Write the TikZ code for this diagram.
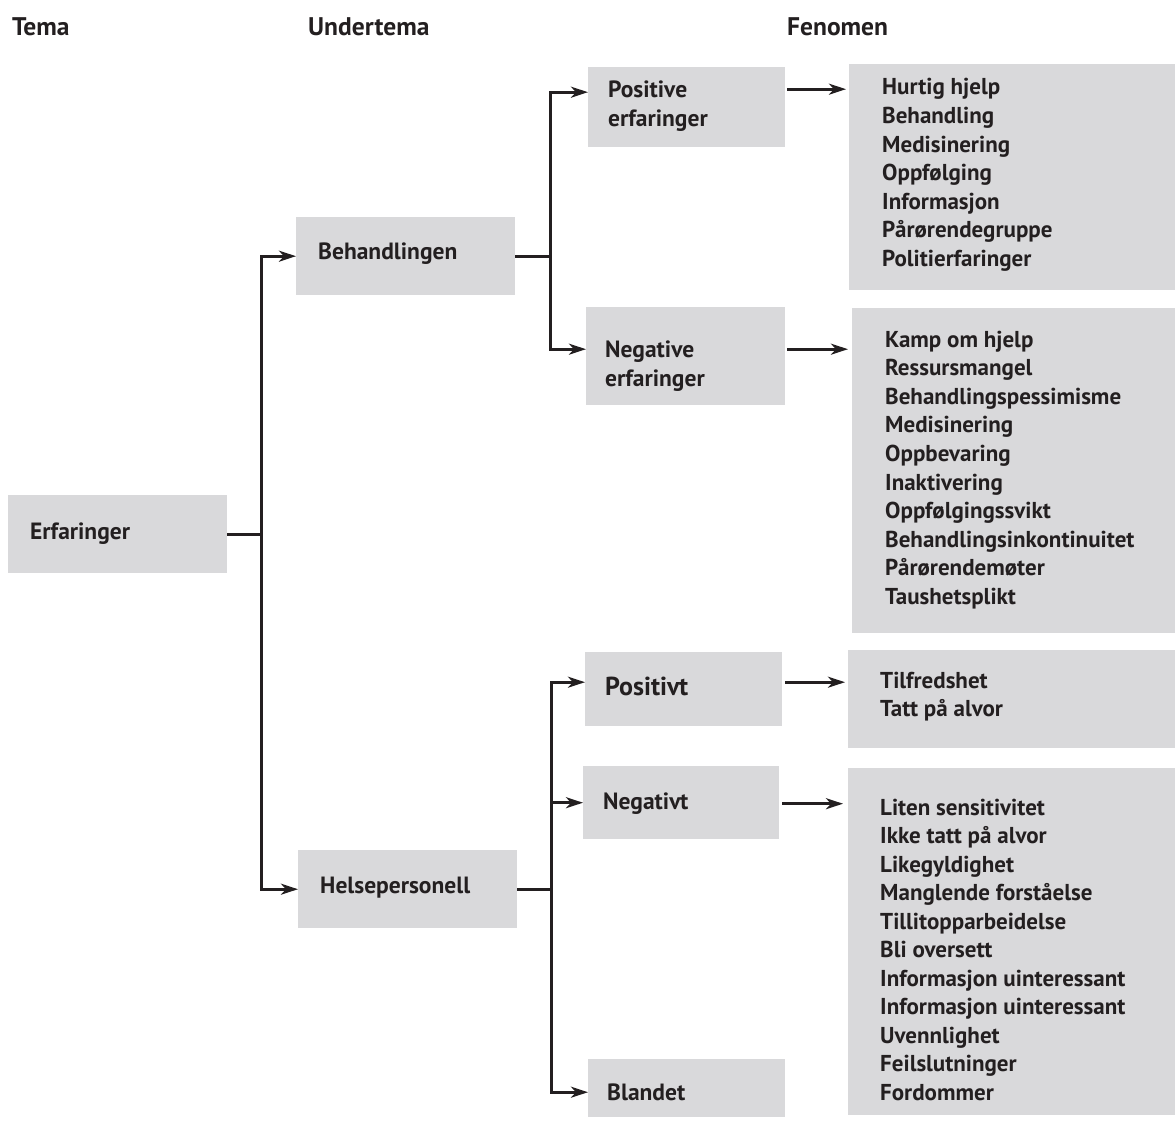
\documentclass[tikz,border=0pt]{standalone}
\usepackage{fontspec}
\setmainfont{PT Sans}
\usetikzlibrary{arrows.meta}
\definecolor{boxgray}{HTML}{D9D9DB}
\definecolor{ink}{HTML}{231F20}
\tikzset{
  gbox/.style={fill=boxgray, draw=none, inner sep=0pt, anchor=north west},
  txt/.style={anchor=base west, inner sep=0pt, text=ink, font=\fontsize{23}{27}\bfseries\selectfont},
  head/.style={txt, font=\fontsize{25.5}{30}\bfseries\selectfont},
  sub/.style={txt, font=\fontsize{23.5}{28}\bfseries\selectfont},
  conn/.style={draw=ink, line width=3pt},
  arr/.style={conn, -{Stealth[length=17pt, width=11pt, inset=5pt]}},
}
\newcommand{\greybox}[5]{%
  \node[gbox, minimum width={#4-#2}, minimum height={#5-#3}] (#1) at (#2,#3) {};}
\begin{document}
\begin{tikzpicture}[x=1pt, y=-1pt]
\useasboundingbox (0,0) rectangle (1175,1124);

% column headings
\node[head] (hTema) at (12,36) {Tema};
\node[head] (hUnder) at (308,36) {Undertema};
\node[head] (hFen) at (787,36) {Fenomen};

% grey boxes
\greybox{erf}{8}{495}{227}{573}
\greybox{beh}{296}{217}{515}{295}
\greybox{hel}{298}{850}{517}{928}
\greybox{pe}{588}{67}{785}{147}
\greybox{ne}{586}{307}{785}{405}
\greybox{pt}{585}{652}{782}{726}
\greybox{nt}{583}{766}{779}{839}
\greybox{bl}{588}{1059}{785}{1117}
\greybox{fa}{849}{64}{1175}{290}
\greybox{fb}{852}{308}{1175}{633}
\greybox{fc}{848}{650}{1175}{748}
\greybox{fd}{848}{768}{1175}{1115}

% box labels
\node[sub] (tErf) at (30,539) {Erfaringer};
\node[sub] (tBeh) at (318,259) {Behandlingen};
\node[sub] (tHel) at (320,893) {Helsepersonell};
\node[sub] (tPe1) at (608,97) {Positive};
\node[sub] (tPe2) at (608,126) {erfaringer};
\node[sub] (tNe1) at (605,357) {Negative};
\node[sub] (tNe2) at (605,386) {erfaringer};
\node[sub, font=\fontsize{26}{30}\bfseries\selectfont] (tPt) at (605,695) {Positivt};
\node[sub] (tNt) at (603,809) {Negativt};
\node[sub] (tBl) at (607,1100) {Blandet};

% phenomenon lists
\foreach \t [count=\i] in {Hurtig hjelp, Behandling, Medisinering, Oppfølging,
    Informasjon, Pårørendegruppe, Politierfaringer}
  \node[txt] (la\i) at (882,{95+(\i-1)*28.5}) {\t};
\foreach \t [count=\i] in {Kamp om hjelp, Ressursmangel, Behandlingspessimisme,
    Medisinering, Oppbevaring, Inaktivering, Oppfølgingssvikt,
    Behandlingsinkontinuitet, Pårørendemøter, Taushetsplikt}
  \node[txt] (lb\i) at (885,{347+(\i-1)*28.6}) {\t};
\foreach \t [count=\i] in {Tilfredshet, Tatt på alvor}
  \node[txt] (lc\i) at (880,{688+(\i-1)*28.5}) {\t};
\foreach \t [count=\i] in {Liten sensitivitet, Ikke tatt på alvor, Likegyldighet,
    Manglende forståelse, Tillitopparbeidelse, Bli oversett,
    Informasjon uinteressant, Informasjon uinteressant, Uvennlighet,
    Feilslutninger, Fordommer}
  \node[txt] (ld\i) at (880,{815+(\i-1)*28.5}) {\t};

% tree connectors
\draw[conn] (erf.east) -- ++(34,0) coordinate (j1);
\draw[arr] (j1) |- (beh.west);
\draw[arr] (j1) |- (hel.west);

\draw[conn] (beh.east) -- ++(35,0) coordinate (j2);
\draw[arr] (j2) |- ([yshift=15pt]pe.west);
\draw[arr] (j2) |- ([yshift=7pt]ne.west);

\draw[conn] (hel.east) -- ++(34,0) coordinate (j3);
\draw[arr] (j3) |- ([yshift=7pt]pt.west);
\draw[arr] (j3) |- (nt.west);
\draw[arr] (j3) |- ([yshift=-4pt]bl.west);

% subtopic to phenomenon arrows
\draw[arr, shorten <=2pt, shorten >=3pt] ([yshift=18pt]pe.east) -- ([yshift=18pt]pe.east -| fa.west);
\draw[arr, shorten <=2pt, shorten >=4pt] ([yshift=7pt]ne.east) -- ([yshift=7pt]ne.east -| fb.west);
\draw[arr, shorten <=3pt, shorten >=3pt] ([yshift=7pt]pt.east) -- ([yshift=7pt]pt.east -| fc.west);
\draw[arr, shorten <=3pt, shorten >=5pt] ([yshift=-1pt]nt.east) -- ([yshift=-1pt]nt.east -| fd.west);
\end{tikzpicture}
\end{document}
